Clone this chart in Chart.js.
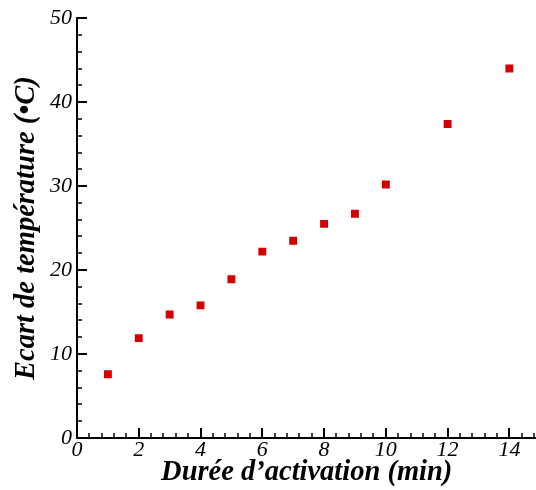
<!DOCTYPE html>
<html>
<head>
<meta charset="utf-8">
<script src="https://cdn.jsdelivr.net/npm/chart.js@4.4.1/dist/chart.umd.min.js"></script>
<style>
  html, body { margin: 0; padding: 0; background: #fff; overflow: hidden; }
  #wrap { width: 536px; height: 490px; overflow: hidden; }
</style>
</head>
<body>
<div id="wrap"><canvas id="chart" width="542" height="490"></canvas></div>
<script>
// données
const durees = [1, 2, 3, 4, 5, 6, 7, 8, 9, 10, 12, 14];
const ecarts = [7.6, 11.9, 14.7, 15.8, 18.9, 22.2, 23.5, 25.5, 26.7, 30.2, 37.4, 44.0];

const xStep = 2, xMinor = 0.4;
const yStep = 10, yMinor = 2;

const serif = '"Liberation Serif", "Times New Roman", serif';

// petites graduations tournées vers l'intérieur
const innerTicks = {
  id: 'innerTicks',
  afterDatasetsDraw(chart) {
    const { ctx, scales: { x, y } } = chart;
    ctx.save();
    ctx.strokeStyle = '#000';
    const x0 = x.getPixelForValue(0), y0 = y.getPixelForValue(0);
    for (let i = 0; i * xMinor <= x.max + 1e-6; i++) {
      const v = i * xMinor;
      const major = i % 5 === 0;
      const px = Math.round(x.getPixelForValue(v));
      ctx.lineWidth = major ? 2 : 1.5;
      ctx.beginPath();
      ctx.moveTo(px, y0);
      ctx.lineTo(px, y0 - (major ? 10 : 5));
      ctx.stroke();
    }
    for (let i = 0; i * yMinor <= y.max + 1e-6; i++) {
      const v = i * yMinor;
      const major = i % 5 === 0;
      const py = Math.round(y.getPixelForValue(v));
      ctx.lineWidth = major ? 2 : 1.5;
      ctx.beginPath();
      ctx.moveTo(x0, py);
      ctx.lineTo(x0 + (major ? 10 : 5), py);
      ctx.stroke();
    }
    ctx.restore();
  }
};

new Chart(document.getElementById('chart'), {
  type: 'scatter',
  data: {
    datasets: [{
      data: durees.map((d, i) => ({ x: d, y: ecarts[i] })),
      pointStyle: 'rect',
      pointRadius: 5.6,
      pointBorderWidth: 0,
      backgroundColor: 'rgb(212,0,0)',
      borderColor: 'rgb(212,0,0)'
    }]
  },
  options: {
    responsive: false,
    animation: false,
    layout: { padding: { top: 16, right: 0, left: 0, bottom: 0 } },
    plugins: { legend: { display: false }, tooltip: { enabled: false } },
    scales: {
      x: {
        type: 'linear',
        min: 0,
        max: 14.875,
        afterFit(s) { s.height = 52; },
        grid: { drawOnChartArea: false, drawTicks: false },
        border: { color: '#000', width: 2 },
        ticks: {
          stepSize: xStep,
          includeBounds: false,
          padding: 0,
          color: '#000',
          font: { family: serif, size: 22, style: 'italic', lineHeight: 1.1 },
          maxRotation: 0
        },
        title: {
          display: true,
          text: 'Durée d’activation (min)',
          color: '#000',
          padding: { top: 0, bottom: 0 },
          font: { family: serif, size: 28.5, style: 'italic', weight: 'bold' }
        }
      },
      y: {
        type: 'linear',
        min: 0,
        max: 50,
        afterFit(s) { s.width = 77; },
        grid: { drawOnChartArea: false, drawTicks: false },
        border: { color: '#000', width: 2 },
        ticks: {
          stepSize: yStep,
          padding: 5,
          color: '#000',
          font: { family: serif, size: 22, style: 'italic' }
        },
        title: {
          display: true,
          text: 'Ecart de température (•C)',
          color: '#000',
          padding: { top: 10, bottom: 0 },
          font: { family: serif, size: 28.5, style: 'italic', weight: 'bold' }
        }
      }
    }
  },
  plugins: [innerTicks]
});
</script>
</body>
</html>
